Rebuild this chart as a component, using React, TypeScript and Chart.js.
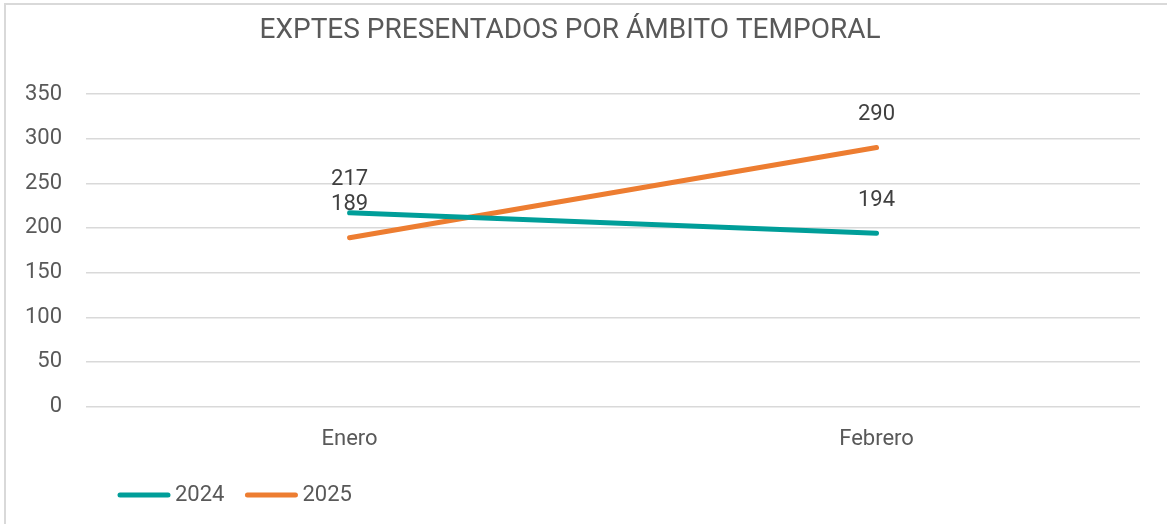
import React, { useEffect, useRef } from "react";
import { Chart, registerables } from "chart.js";

Chart.register(...registerables);

const TITLE = "EXPTES PRESENTADOS POR ÁMBITO TEMPORAL";
const categories = ["Enero", "Febrero"];
const seriesNames = ["2024", "2025"];
const values2024 = [217, 194];
const values2025 = [189, 290];
const yTicks = [0, 50, 100, 150, 200, 250, 300, 350];

const COLORS = ["#009E99", "#ED7D31"];
const FONT = "Roboto, 'Open Sans', sans-serif";

const framePlugin = {
  id: "frame",
  beforeDraw(chart: any) {
    const ctx = chart.ctx;
    ctx.save();
    ctx.fillStyle = "#ffffff";
    ctx.fillRect(0, 0, chart.width, chart.height);
    ctx.strokeStyle = "#d9d9d9";
    ctx.lineWidth = 2;
    ctx.strokeRect(5, 4, chart.width + 20, chart.height + 20);
    ctx.restore();
  },
  afterDraw(chart: any) {
    const ctx = chart.ctx;
    ctx.save();
    // title
    ctx.fillStyle = "#595959";
    ctx.font = `28px ${FONT}`;
    ctx.textAlign = "center";
    ctx.textBaseline = "middle";
    ctx.fillText(TITLE, 570, 31);
    // legend
    ctx.font = `22px ${FONT}`;
    ctx.textAlign = "left";
    let x = 120;
    const y = 495;
    chart.data.datasets.forEach((ds: any) => {
      ctx.strokeStyle = ds.borderColor;
      ctx.lineWidth = 5;
      ctx.lineCap = "round";
      ctx.beginPath();
      ctx.moveTo(x, y);
      ctx.lineTo(x + 48, y);
      ctx.stroke();
      x += 55;
      ctx.fillStyle = "#595959";
      ctx.fillText(ds.label, x, y);
      x += ctx.measureText(ds.label).width + 23;
    });
    ctx.restore();
  },
};

const labelsPlugin = {
  id: "dataLabels",
  afterDatasetsDraw(chart: any) {
    const ctx = chart.ctx;
    ctx.save();
    ctx.fillStyle = "#404040";
    ctx.font = `22px ${FONT}`;
    ctx.textAlign = "center";
    ctx.textBaseline = "middle";
    chart.data.datasets.forEach((ds: any, i: number) => {
      const meta = chart.getDatasetMeta(i);
      meta.data.forEach((pt: any, j: number) => {
        ctx.fillText(String(ds.data[j]), pt.x, pt.y - 33);
      });
    });
    ctx.restore();
  },
};

export default function App() {
  const ref = useRef<HTMLCanvasElement>(null);
  useEffect(() => {
    document.body.style.margin = "0";
    const chart = new Chart(ref.current as HTMLCanvasElement, {
      type: "line",
      data: {
        labels: categories,
        datasets: [
          {
            label: seriesNames[0],
            data: values2024,
            borderColor: COLORS[0],
            backgroundColor: COLORS[0],
            borderWidth: 5,
            borderCapStyle: "round",
            pointRadius: 0,
            tension: 0,
          },
          {
            label: seriesNames[1],
            data: values2025,
            borderColor: COLORS[1],
            backgroundColor: COLORS[1],
            borderWidth: 5,
            borderCapStyle: "round",
            pointRadius: 0,
            tension: 0,
          },
        ],
      },
      options: {
        responsive: false,
        animation: false,
        layout: { padding: { top: 94, left: 1, right: 27, bottom: 59 } },
        plugins: {
          legend: { display: false },
          title: { display: false },
          tooltip: { enabled: false },
        },
        scales: {
          x: {
            offset: true,
            grid: { display: false },
            border: { display: false },
            ticks: {
              color: "#595959",
              font: { family: FONT, size: 22 },
              padding: 12,
            },
          },
          y: {
            min: 0,
            max: 350,
            afterBuildTicks(axis: any) {
              axis.ticks = yTicks.map((v) => ({ value: v }));
            },
            grid: { color: "#d9d9d9", lineWidth: 1.5, drawTicks: false },
            border: { display: false },
            ticks: {
              color: "#595959",
              font: { family: FONT, size: 22 },
              padding: 24,
            },
          },
        },
      },
      plugins: [framePlugin, labelsPlugin],
    });
    return () => chart.destroy();
  }, []);
  return (
    <div style={{ width: 1167, height: 524 }}>
      <canvas ref={ref} width={1167} height={524} style={{ display: "block" }} />
    </div>
  );
}
